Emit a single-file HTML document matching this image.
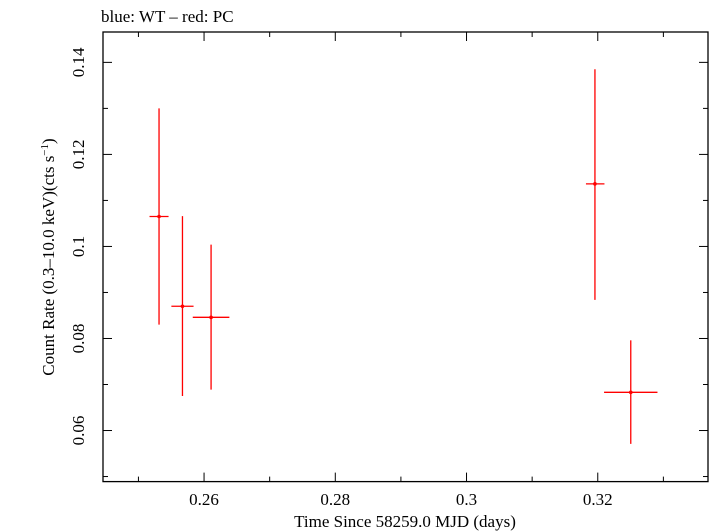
<!DOCTYPE html>
<html><head><meta charset="utf-8"><style>
body{margin:0;background:#fff;}
svg{display:block;font-family:"Liberation Serif",serif;}
</style></head><body>
<svg id="chart" width="709" height="532">
<text x="101" y="22" font-size="17">blue: WT – red: PC</text>
<rect x="103" y="32" width="605" height="449.6" fill="none" stroke="#000" stroke-width="1.3"/>
<g id="ticks"></g>
<g id="marks"></g>
<text x="405" y="527" font-size="17" text-anchor="middle">Time Since 58259.0 MJD (days)</text>
<text transform="translate(54,257) rotate(-90)" font-size="17" text-anchor="middle">Count Rate (0.3–10.0 keV)(cts s<tspan dy="-6" font-size="11">−1</tspan><tspan dy="6">)</tspan></text>
</svg>
<script>
const times=[0.25314,0.25671,0.26107,0.31957,0.32503];
const timeErrLo=[0.00145,0.00169,0.00279,0.00137,0.00004];
const timeErrHi=[0.00145,0.00169,0.00279,0.00145,0.00407];
const rates=[0.1065,0.0870,0.0846,0.1136,0.0683];
const rateErrHi=[0.0235,0.0196,0.0158,0.0249,0.0113];
const rateErrLo=[0.0235,0.0195,0.0157,0.0252,0.0112];
const xTicks=[0.26,0.28,0.30,0.32];
const xTickLabels=["0.26","0.28","0.3","0.32"];
const yTicks=[0.06,0.08,0.10,0.12,0.14];
const yTickLabels=["0.06","0.08","0.1","0.12","0.14"];
timeErrLo[4]=0.00407;
const L=103,R=708,T=32,B=481.6;
const x0=0.2446,x1=0.3368,y0=0.0489,y1=0.1466;
const sx=v=>L+(v-x0)/(x1-x0)*(R-L);
const sy=v=>B-(v-y0)/(y1-y0)*(B-T);
const NS="http://www.w3.org/2000/svg";
function mk(tag,attrs,parent){const e=document.createElementNS(NS,tag);for(const k in attrs)e.setAttribute(k,attrs[k]);parent.appendChild(e);return e;}
const tg=document.getElementById('ticks');
for(let v=0.25;v<=0.3301;v+=0.01){
  const X=sx(v);const major=xTicks.some(t=>Math.abs(t-v)<1e-6);const len=major?9:5;
  let l=mk('line',{x1:X,x2:X,y1:B,y2:B-len,stroke:'#000','stroke-width':1},tg);
  
  
  l=mk('line',{x1:X,x2:X,y1:T,y2:T+len,stroke:'#000','stroke-width':1},tg);
  
  
}
xTicks.forEach((v,i)=>{const t=mk('text',{x:sx(v),y:505,'font-size':17,'text-anchor':'middle'},tg);t.textContent=xTickLabels[i];
  
  });
for(let v=0.05;v<=0.1401;v+=0.01){
  const Y=sy(v);const major=yTicks.some(t=>Math.abs(t-v)<1e-6);const len=major?9:5;
  let l=mk('line',{x1:L,x2:L+len,y1:Y,y2:Y,stroke:'#000','stroke-width':1},tg);
  
  
  l=mk('line',{x1:R,x2:R-len,y1:Y,y2:Y,stroke:'#000','stroke-width':1},tg);
  
  
}
yTicks.forEach((v,i)=>{const Y=sy(v);const t=mk('text',{transform:`translate(84,${Y}) rotate(-90)`,'font-size':17,'text-anchor':'middle'},tg);t.textContent=yTickLabels[i];
  
  });
const mg=document.getElementById('marks');
times.forEach((t,i)=>{
  const g=mk('g',{},mg);
  
  
  mk('line',{x1:sx(t-timeErrLo[i]),x2:sx(t+timeErrHi[i]),y1:sy(rates[i]),y2:sy(rates[i]),stroke:'#f00','stroke-width':1.3},g);
  mk('line',{x1:sx(t),x2:sx(t),y1:sy(rates[i]+rateErrHi[i]),y2:sy(rates[i]-rateErrLo[i]),stroke:'#f00','stroke-width':1.3},g);
  mk('circle',{cx:sx(t),cy:sy(rates[i]),r:1.8,fill:'#f00'},g);
});
</script>
</body></html>
